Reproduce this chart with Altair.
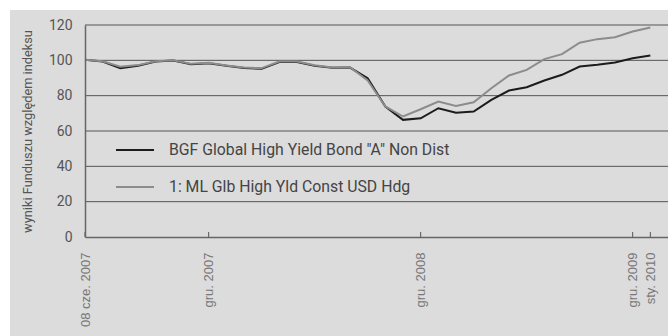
import altair as alt
import pandas as pd

# ---- data ----
tick_pos = [0, 7, 19, 31, 32]
tick_labels = ["08 cze. 2007", "gru. 2007", "gru. 2008", "gru. 2009", "sty. 2010"]

fund = [100.3, 99.3, 95.6, 96.9, 99.3, 99.9, 97.8, 98.4, 96.9, 95.6, 95.2,
        99.0, 99.0, 96.9, 95.8, 95.9, 89.9, 73.8, 66.3, 67.2, 72.9, 70.4,
        71.0, 77.6, 82.9, 84.8, 88.6, 91.8, 96.5, 97.5, 98.8, 101.2, 102.7]
index = [100.3, 99.5, 96.4, 97.3, 99.5, 100.0, 98.0, 98.6, 97.1, 95.9, 95.6,
         99.3, 99.3, 97.2, 96.0, 96.1, 88.6, 73.9, 68.2, 72.3, 76.7, 74.2,
         76.3, 84.2, 91.4, 94.6, 100.7, 103.5, 110.0, 112.0, 113.1, 116.3, 118.6]

series_names = ['BGF Global High Yield Bond "A" Non Dist',
                "1: ML Glb High Yld Const USD Hdg"]
series_colors = ["#1c1c1c", "#8c8c8c"]
y_ticks = [0, 20, 40, 60, 80, 100, 120]
grid_vals = [20, 40, 60, 80, 100, 120]
y_title = "wyniki Funduszu względem indeksu"

W, H = 583, 212

rows = []
for name, vals in zip(series_names, [fund, index]):
    for i, v in enumerate(vals):
        rows.append({"i": i, "value": v, "series": name})
df = pd.DataFrame(rows)

label_expr = "".join(
    f"datum.value == {p} ? '{t}' : " for p, t in zip(tick_pos, tick_labels)
) + "''"

xscale = alt.Scale(domain=[0, 33], nice=False, zero=False)
yscale = alt.Scale(domain=[0, 120], nice=False)

x_axis = alt.Axis(values=tick_pos, labelExpr=label_expr, title=None,
                  grid=False, ticks=False, domain=True,
                  domainColor="#666666", domainWidth=1.5,
                  labelAngle=270, labelAlign="right", labelBaseline="middle",
                  labelPadding=15,
                  labelFont="Liberation Sans", labelFontSize=13,
                  labelColor="#777777", labelOverlap=False,
                  labelFlush=False, zindex=1)
y_axis = alt.Axis(values=y_ticks, title=y_title, grid=False,
                  ticks=False, domain=True, domainColor="#666666",
                  domainWidth=1.5, labelPadding=13,
                  labelFont="Roboto", labelFontSize=14,
                  labelColor="#555555", titleFont="Roboto",
                  titleFontSize=12.8, titleFontWeight="normal",
                  titleColor="#555555", titlePadding=14, zindex=1)

bg = alt.Chart(pd.DataFrame({"a": [0]})).mark_rect(color="#dcdcdc").encode(
    x=alt.value(-75), x2=alt.value(W), y=alt.value(-15), y2=alt.value(311)
)

grid = alt.Chart(pd.DataFrame({"value": grid_vals})).mark_rule(
    color="#555555", strokeWidth=1
).encode(
    y=alt.Y("value:Q", scale=yscale, axis=y_axis, title=y_title),
    x=alt.value(0), x2=alt.value(W),
)

ticks = alt.Chart(pd.DataFrame({"i": tick_pos})).mark_rule(
    color="#555555", strokeWidth=1
).encode(
    x=alt.X("i:Q", scale=xscale, axis=x_axis, title=None),
    y=alt.value(H - 5), y2=alt.value(H),
)

lines = alt.Chart(df).mark_line(strokeWidth=2).encode(
    x=alt.X("i:Q", scale=xscale, axis=x_axis, title=None),
    y=alt.Y("value:Q", scale=yscale, axis=y_axis, title=y_title),
    color=alt.Color("series:N",
                    scale=alt.Scale(domain=series_names, range=series_colors),
                    sort=series_names,
                    legend=alt.Legend(title=None, orient="none",
                                      legendX=30, legendY=105,
                                      symbolType="stroke", symbolSize=1444,
                                      symbolStrokeWidth=2, rowPadding=9,
                                      labelOffset=14, labelFont="Roboto",
                                      labelFontSize=15.8, labelColor="#444444",
                                      labelLimit=600, padding=0)),
)

chart = alt.layer(bg, grid, ticks, lines).properties(
    width=W, height=H,
    autosize=alt.AutoSizeParams(type="none"),
    padding={"left": 85, "top": 25, "right": 0, "bottom": 99},
    background="white",
).configure_view(stroke=None)

chart.save("out.html", embed_options={"renderer": "svg", "actions": False})
